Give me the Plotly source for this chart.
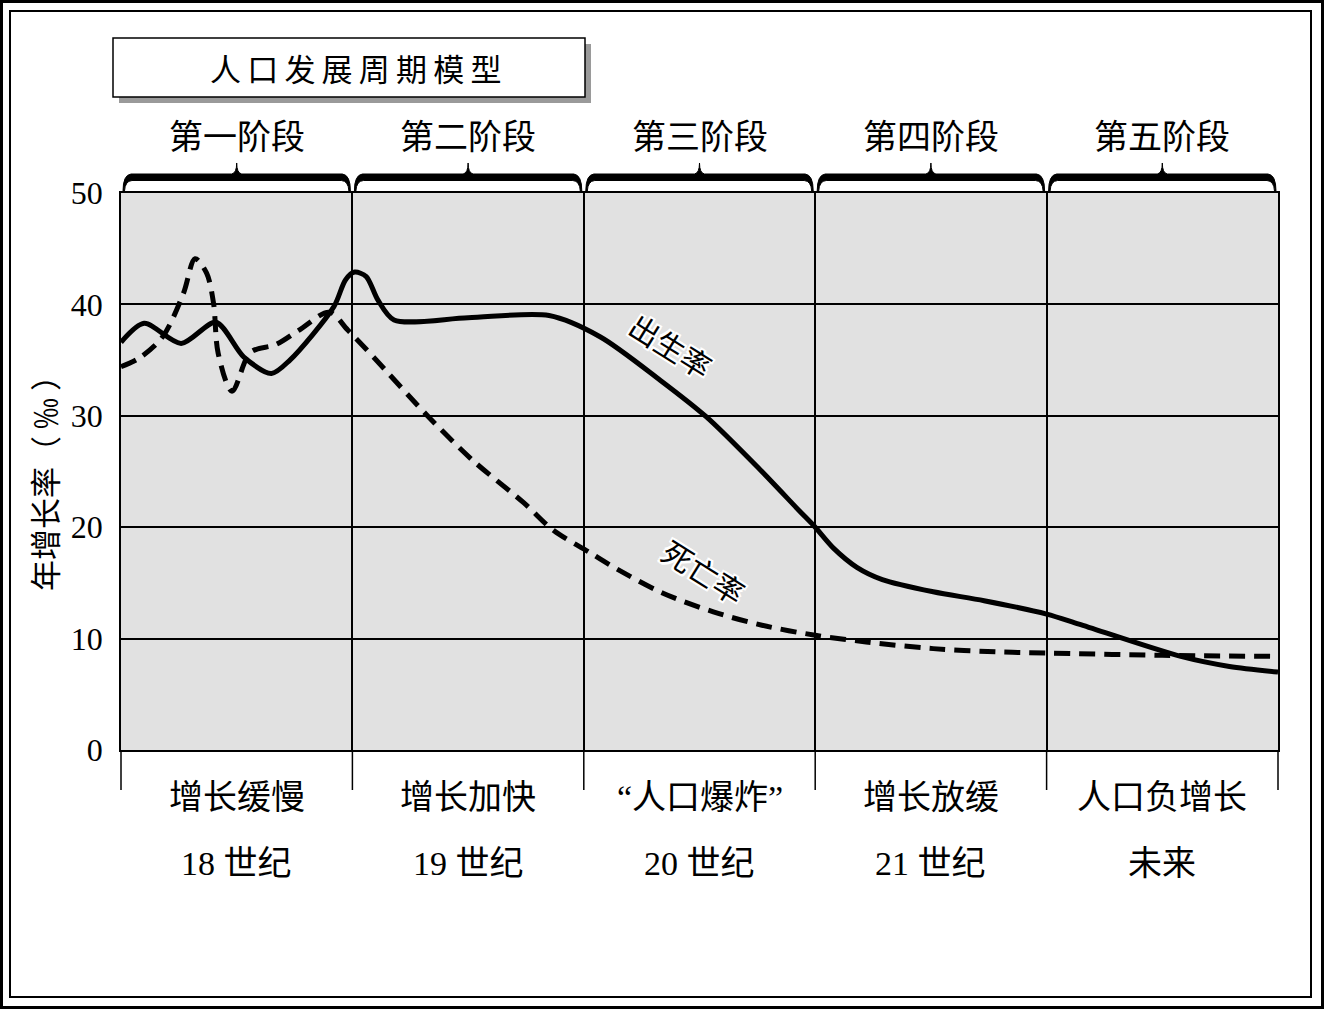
import plotly.graph_objects as go

# ---------------- data ----------------
stages = ["第一阶段", "第二阶段", "第三阶段", "第四阶段", "第五阶段"]
growth_labels = ["增长缓慢", "增长加快", "“人口爆炸”", "增长放缓", "人口负增长"]
period_labels = ["18 世纪", "19 世纪", "20 世纪", "21 世纪", "未来"]
y_ticks = [0, 10, 20, 30, 40, 50]

# x measured in stage units (0..5)
birth_x = [0.0, 0.10, 0.26, 0.41, 0.53, 0.65, 0.73, 0.92, 0.97, 1.01, 1.06, 1.11, 1.18,
           1.50, 1.85, 2.07, 2.33, 2.53, 2.76, 2.93, 3.00, 3.08, 3.18, 3.29, 3.51, 3.73,
           4.00, 4.14, 4.58, 4.79, 5.00]
birth_y = [36.6, 38.3, 36.5, 38.4, 35.3, 33.8, 35.0, 39.8, 42.2, 42.9, 42.5, 40.4, 38.6,
           38.8, 39.0, 37.1, 33.2, 29.9, 25.2, 21.5, 20.0, 18.1, 16.4, 15.3, 14.2, 13.4,
           12.2, 11.3, 8.4, 7.5, 7.0]

death_x = [0.0, 0.08, 0.18, 0.27, 0.32, 0.37, 0.40, 0.42, 0.48, 0.56, 0.67, 0.77, 0.90,
           0.98, 1.09, 1.32, 1.52, 1.74, 1.87, 2.02, 2.13, 2.34, 2.56, 2.77, 3.00, 3.22,
           3.51, 3.80, 4.00, 4.50, 5.00]
death_y = [34.4, 35.2, 37.1, 41.0, 44.1, 42.8, 40.1, 35.6, 32.2, 35.7, 36.4, 37.7, 39.3,
           37.7, 35.3, 30.1, 26.0, 22.2, 19.7, 17.8, 16.4, 14.1, 12.4, 11.2, 10.3, 9.7,
           9.1, 8.8, 8.7, 8.5, 8.4]

# ---------------- layout geometry ----------------
W, H = 1324, 1009
L, R, T, B = 121, 1278, 193, 750


def px(x):
    return (x - L) / (R - L)


def py(y):
    return (B - y) / (B - T)


SERIF = "Liberation Serif, 'Noto Sans CJK SC', serif"
SANS = "'Noto Sans CJK SC', sans-serif"

fig = go.Figure()
fig.add_trace(go.Scatter(x=birth_x, y=birth_y, mode="lines", name="出生率",
                         line=dict(color="black", width=5, shape="spline", smoothing=0.8),
                         hoverinfo="skip"))
fig.add_trace(go.Scatter(x=death_x, y=death_y, mode="lines", name="死亡率",
                         line=dict(color="black", width=5, shape="spline", smoothing=0.9,
                                   dash="16px,9px"),
                         hoverinfo="skip"))

shapes = []
# outer double frame
shapes.append(dict(type="rect", xref="paper", yref="paper", x0=px(1.5), x1=px(1322.5),
                   y0=py(1.5), y1=py(1007.5), line=dict(color="black", width=3)))
shapes.append(dict(type="rect", xref="paper", yref="paper", x0=px(10), x1=px(1311),
                   y0=py(11), y1=py(997), line=dict(color="black", width=2)))
# title box with shadow
shapes.append(dict(type="rect", xref="paper", yref="paper", x0=px(119), x1=px(591),
                   y0=py(44), y1=py(103), line=dict(width=0), fillcolor="#9a9a9a"))
shapes.append(dict(type="rect", xref="paper", yref="paper", x0=px(113), x1=px(585),
                   y0=py(38), y1=py(97), line=dict(color="black", width=1.5),
                   fillcolor="white"))

# stage boundary extension lines below the plot and braces above
n = len(stages)
for i in range(n + 1):
    xp = i / n
    shapes.append(dict(type="line", xref="paper", yref="paper", x0=xp, x1=xp,
                       y0=0, y1=py(790), line=dict(color="black", width=1.5)))


def brace(a, b):
    c = (a + b) / 2
    pts = [
        ("M", [(a, 191)]),
        ("Q", [(a, 175), (a + 8, 174)]),
        ("L", [(c - 5, 174)]),
        ("Q", [(c, 173), (c, 163)]),
        ("Q", [(c, 173), (c + 5, 174)]),
        ("L", [(b - 8, 174)]),
        ("Q", [(b, 175), (b, 191)]),
        ("L", [(b - 1.5, 191)]),
        ("Q", [(b - 2, 181), (b - 9, 180.5)]),
        ("L", [(a + 9, 180.5)]),
        ("Q", [(a + 2, 181), (a + 1.5, 191)]),
    ]
    s = ""
    for cmd, pp in pts:
        s += cmd + " " + " ".join(f"{px(x):.5f},{py(y):.5f}" for x, y in pp) + " "
    return s + "Z"


for i in range(n):
    a = L + (R - L) * i / n + 2
    b = L + (R - L) * (i + 1) / n - 2
    shapes.append(dict(type="path", xref="paper", yref="paper", path=brace(a, b),
                       fillcolor="black", line=dict(color="black", width=1)))

annotations = []
annotations.append(dict(text="\u2009".join("人口发展周期模型"),
                        xref="paper", yref="paper",
                        x=px(355), y=py(68), showarrow=False, xanchor="center",
                        yanchor="middle", font=dict(family=SANS, size=31, color="black")))
for i in range(n):
    xc = (i + 0.5) / n
    annotations.append(dict(text=stages[i], xref="paper", yref="paper", x=xc, y=py(137),
                            showarrow=False, xanchor="center", yanchor="middle",
                            font=dict(family=SERIF, size=34, color="black")))
    annotations.append(dict(text=growth_labels[i], xref="paper", yref="paper", x=xc,
                            y=py(797), showarrow=False, xanchor="center", yanchor="middle",
                            font=dict(family=SERIF, size=34, color="black")))
    annotations.append(dict(text=period_labels[i], xref="paper", yref="paper", x=xc,
                            y=py(863), showarrow=False, xanchor="center", yanchor="middle",
                            font=dict(family=SERIF, size=34, color="black")))

annotations.append(dict(text="年增长率（ ‰ ）", xref="paper", yref="paper", x=px(43),
                        y=py(476), textangle=-90, showarrow=False, xanchor="center",
                        yanchor="middle", font=dict(family=SANS, size=31, color="black")))

halo = ("2px 0 0 white, -2px 0 0 white, 0 2px 0 white, 0 -2px 0 white, "
        "2px 2px 0 white, -2px -2px 0 white, 2px -2px 0 white, -2px 2px 0 white")
annotations.append(dict(text="出生率", xref="paper", yref="paper", x=px(670), y=py(347),
                        textangle=32, showarrow=False, xanchor="center", yanchor="middle",
                        font=dict(family=SERIF, size=30, color="black", shadow=halo)))
annotations.append(dict(text="死亡率", xref="paper", yref="paper", x=px(703), y=py(573),
                        textangle=32, showarrow=False, xanchor="center", yanchor="middle",
                        font=dict(family=SERIF, size=30, color="black", shadow=halo)))

fig.update_layout(
    width=W, height=H,
    margin=dict(l=L, r=W - R, t=T, b=H - B, pad=0),
    paper_bgcolor="white",
    plot_bgcolor="#e1e1e1",
    showlegend=False,
    shapes=shapes,
    annotations=annotations,
    xaxis=dict(range=[0, n], tickmode="linear", dtick=1, showticklabels=False,
               showgrid=True, gridcolor="black", gridwidth=1.5, zeroline=False,
               showline=True, linecolor="black", linewidth=1.5, mirror=True, ticks=""),
    yaxis=dict(range=[0, 50], tickvals=y_ticks, showgrid=True, gridcolor="black",
               gridwidth=1.5, zeroline=False, showline=True, linecolor="black",
               linewidth=1.5, mirror=True, ticks="outside", ticklen=10,
               tickcolor="rgba(0,0,0,0)",
               tickfont=dict(family="Liberation Serif, serif", size=32, color="black")),
)

fig.write_html("out.html", config={"displayModeBar": False},
               post_script="document.body.style.margin='0';document.body.style.overflow='hidden';")
